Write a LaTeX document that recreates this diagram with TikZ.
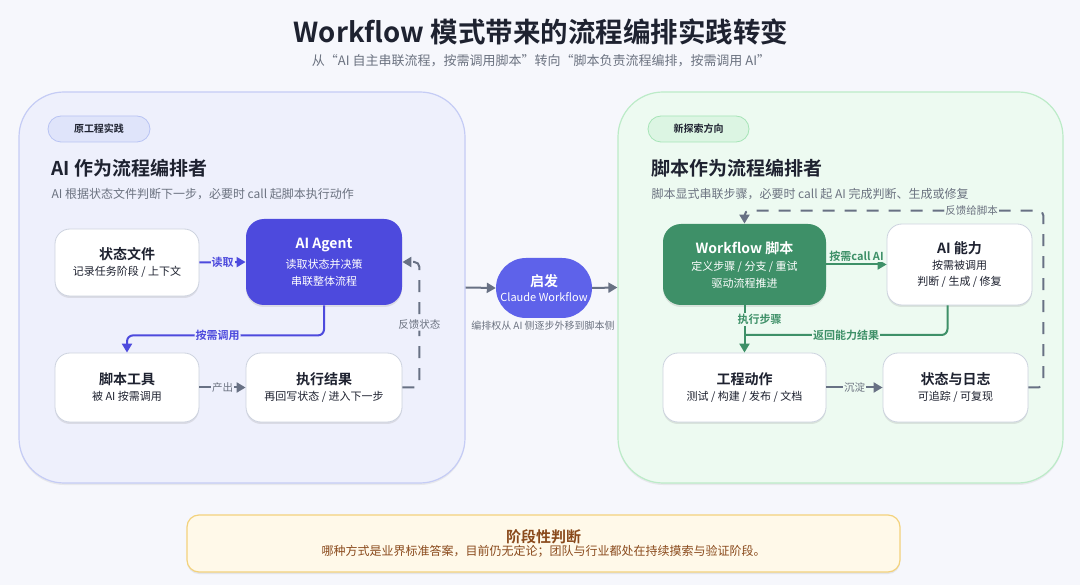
\documentclass[tikz,border=0pt]{standalone}
\usepackage{fontspec}
\setmainfont{Noto Sans CJK SC}[BoldFont={Noto Sans CJK SC Bold}]
\usetikzlibrary{arrows.meta,shadows,calc}
\definecolor{bgc}{HTML}{F6F7FC}
\definecolor{lfill}{HTML}{EEF0FC}
\definecolor{lborder}{HTML}{C5CCF5}
\definecolor{rfill}{HTML}{EDFAF1}
\definecolor{rborder}{HTML}{BCEBC8}
\definecolor{ltag}{HTML}{DFE4FA}
\definecolor{ltagb}{HTML}{B8C3F3}
\definecolor{rtag}{HTML}{DCF5E3}
\definecolor{rtagb}{HTML}{A6E4B7}
\definecolor{agentc}{HTML}{4D4ADD}
\definecolor{hubc}{HTML}{5E62EA}
\definecolor{greenc}{HTML}{3E9068}
\definecolor{grayarr}{HTML}{687184}
\definecolor{darkt}{HTML}{1E2230}
\definecolor{grayt}{HTML}{6B7280}
\definecolor{boxb}{HTML}{CDD3DF}
\definecolor{notef}{HTML}{FFF9E9}
\definecolor{noteb}{HTML}{F3D27C}
\definecolor{notet}{HTML}{8A4A1C}
\tikzset{
  panel/.style={rounded corners=45pt, line width=1.2pt, drop shadow={shadow xshift=0pt,shadow yshift=-2pt,opacity=0.12,fill=gray}},
  card/.style={draw=boxb, line width=0.8pt, fill=white, rounded corners=15pt, align=center, text=darkt, inner sep=0pt,
     drop shadow={shadow xshift=0pt,shadow yshift=-2pt,opacity=0.18,fill=gray}},
  tagbox/.style={rounded corners=13pt, line width=0.8pt, minimum height=26pt, text=darkt, font=\fontsize{10}{12}\selectfont\bfseries},
  arrg/.style={grayarr, line width=2pt, -{Triangle[length=9pt,width=10pt]}},
  arrb/.style={agentc, line width=2pt, -{Triangle[length=9pt,width=10pt]}},
  arrgr/.style={greenc, line width=2pt, -{Triangle[length=9pt,width=10pt]}},
  dsh/.style={grayarr, line width=2pt, dash pattern=on 12pt off 10pt, rounded corners=5pt, -{Triangle[length=9pt,width=10pt]}},
  lblg/.style={fill=lfill, inner sep=1pt, text=grayt, font=\fontsize{10.5}{12}\selectfont},
}
\newcommand{\cardtxt}[2]{{\fontsize{14}{17}\selectfont\bfseries #1}\\[4pt]{\fontsize{11}{14}\selectfont #2}}
\begin{document}
\begin{tikzpicture}[x=1pt,y=-1pt]
\fill[bgc] (0,0) rectangle (1080,585);
\useasboundingbox (0,0) rectangle (1080,585);

% title
\node[text=darkt, font=\fontsize{27.5}{31}\selectfont\bfseries] (title) at (541,32) {Workflow 模式带来的流程编排实践转变};
\node[text=grayt, font=\fontsize{13}{15}\selectfont] (subtitle) at (541,61) {从“AI 自主串联流程，按需调用脚本”转向“脚本负责流程编排，按需调用 AI”};

% panels
\node[panel, draw=lborder, fill=lfill, minimum width=446pt, minimum height=391pt, inner sep=0pt] (lp) at (242,287.5) {};
\node[panel, draw=rborder, fill=rfill, minimum width=445pt, minimum height=391pt, inner sep=0pt] (rp) at (840.5,287.5) {};

% left header
\node[tagbox, draw=ltagb, fill=ltag, minimum width=102pt] (ltg) at (99,129) {原工程实践};
\node[anchor=west, text=darkt, font=\fontsize{19}{22}\selectfont\bfseries] (lh) at (48,168) {AI 作为流程编排者};
\node[anchor=west, text=grayt, font=\fontsize{12}{14}\selectfont] (ls) at (48,194) {AI 根据状态文件判断下一步，必要时 call 起脚本执行动作};

% left cards
\node[card, minimum width=144pt, minimum height=67pt] (state) at (127,262.5) {\cardtxt{状态文件}{记录任务阶段 / 上下文}};
\node[card, draw=none, fill=agentc, text=white, rounded corners=18pt, minimum width=156pt, minimum height=86pt] (agent) at (324,262) {{\fontsize{14}{17}\selectfont\bfseries AI Agent}\\[6pt]{\fontsize{11}{14}\selectfont 读取状态并决策}\\[5pt]{\fontsize{11}{14}\selectfont 串联整体流程}};
\node[card, minimum width=144pt, minimum height=69pt] (tool) at (127,387.5) {\cardtxt{脚本工具}{被 AI 按需调用}};
\node[card, minimum width=156pt, minimum height=69pt] (result) at (324,387.5) {\cardtxt{执行结果}{再回写状态 / 进入下一步}};

\draw[arrb] (state.east) -- node[fill=lfill, inner sep=1pt, text=agentc, font=\fontsize{11}{12}\selectfont\bfseries] {读取} (agent.west);
\draw[arrb, rounded corners=6pt] (agent.south) -- ++(0,30) -| node[pos=0.27, fill=lfill, inner sep=1pt, text=agentc, font=\fontsize{11}{12}\selectfont\bfseries] {按需调用} (tool.north);
\draw[arrg] (tool.east) -- node[lblg] {产出} (result.west);
\draw[dsh] (result.east) -- ++(17,0) |- node[pos=0.25, lblg] {反馈状态} (agent.east);

% center
\node[draw=none, fill=hubc, rounded corners=30pt, minimum width=96pt, minimum height=60pt, align=center, text=white, inner sep=0pt] (hub) at (544,288) {{\fontsize{14}{17}\selectfont\bfseries 启发}\\[3pt]{\fontsize{11}{13}\selectfont Claude Workflow}};
\node[text=grayt, font=\fontsize{10}{12}\selectfont] (hubl) at (543,326) {编排权从 AI 侧逐步外移到脚本侧};
\draw[arrg] (lp.east) -- (hub.west);
\draw[arrg] (hub.east) -- (rp.west);

% right header
\node[tagbox, draw=rtagb, fill=rtag, minimum width=101pt] (rtg) at (698.5,129) {新探索方向};
\node[anchor=west, text=darkt, font=\fontsize{19}{22}\selectfont\bfseries] (rh) at (648,168) {脚本作为流程编排者};
\node[anchor=west, text=grayt, font=\fontsize{12}{14}\selectfont] (rs) at (648,194) {脚本显式串联步骤，必要时 call 起 AI 完成判断、生成或修复};

% right cards
\node[card, draw=none, fill=greenc, text=white, rounded corners=18pt, minimum width=163pt, minimum height=81pt] (wf) at (744.5,264.5) {{\fontsize{14}{17}\selectfont\bfseries Workflow 脚本}\\[5pt]{\fontsize{11}{14}\selectfont 定义步骤 / 分支 / 重试}\\[5pt]{\fontsize{11}{14}\selectfont 驱动流程推进}};
\node[card, minimum width=145pt, minimum height=81pt] (ai) at (959.5,264.5) {{\fontsize{14}{17}\selectfont\bfseries AI 能力}\\[4pt]{\fontsize{11}{14}\selectfont 按需被调用}\\[4pt]{\fontsize{11}{14}\selectfont 判断 / 生成 / 修复}};
\node[card, minimum width=163pt, minimum height=69pt] (act) at (744.5,387.5) {\cardtxt{工程动作}{测试 / 构建 / 发布 / 文档}};
\node[card, minimum width=145pt, minimum height=69pt] (log) at (955.5,387.5) {\cardtxt{状态与日志}{可追踪 / 可复现}};

\draw[arrgr] (wf.east) -- node[above=1pt, fill=rfill, inner sep=1pt, text=greenc, font=\fontsize{11}{12}\selectfont\bfseries] {按需call AI} (ai.west);
\draw[arrgr] (wf.south) -- node[pos=0.3, xshift=15pt, fill=rfill, inner sep=1pt, text=greenc, font=\fontsize{11}{12}\selectfont\bfseries] {执行步骤} (act.north);
\coordinate (join) at (744.5,335);
\draw[greenc, line width=2pt, rounded corners=6pt] ($(ai.south)+(-12,0)$) |- node[pos=0.75, fill=rfill, inner sep=1pt, text=greenc, font=\fontsize{11}{12}\selectfont\bfseries] {返回能力结果} (join);
\draw[arrg] (act.east) -- node[fill=rfill, inner sep=1pt, text=grayt, font=\fontsize{10.5}{12}\selectfont] {沉淀} (log.west);
\draw[dsh] (log.east) -- ++(15,0) |- node[pos=0.62, fill=rfill, inner sep=1pt, text=grayt, font=\fontsize{10.5}{12}\selectfont] {反馈给脚本} ($(wf.north)+(0,-13)$) -- (wf.north);

% note
\node[draw=noteb, fill=notef, line width=1.2pt, rounded corners=12pt, minimum width=713pt, minimum height=57pt, align=center, inner sep=0pt,
  drop shadow={shadow xshift=0pt,shadow yshift=-2pt,opacity=0.15,fill=gray}] (note) at (543.5,543.5)
  {{\fontsize{15}{18}\selectfont\bfseries\color{notet} 阶段性判断}\\[1pt]{\fontsize{12}{15}\selectfont\color{notet} 哪种方式是业界标准答案，目前仍无定论；团队与行业都处在持续摸索与验证阶段。}};
\end{tikzpicture}
\end{document}
